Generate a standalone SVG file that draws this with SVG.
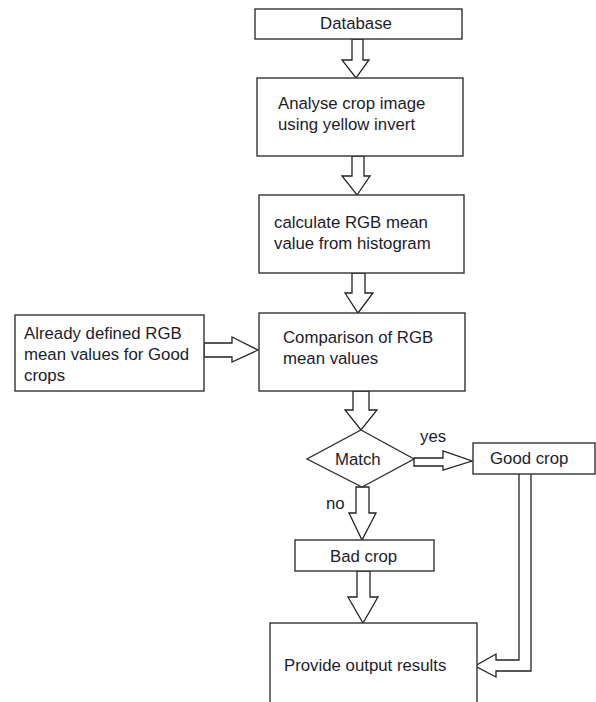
<svg xmlns="http://www.w3.org/2000/svg" width="596" height="702" viewBox="0 0 596 702">
<style>
.box{fill:#fff;stroke:#333;stroke-width:1.4}
.arr{fill:#fff;stroke:#222;stroke-width:1.3;stroke-linejoin:miter}
text{font-family:"Liberation Sans",Arial,sans-serif;font-size:16.8px;fill:#1c1c2a}
</style>
<rect width="596" height="702" fill="#fff"/>
<g id="connectors">
<polygon class="arr" points="352,39 363,39 363,60 369,60 356,78 342,60 352,60"/>
<polygon class="arr" points="352,156 364,156 364,176 370,176 357,195 342,176 352,176"/>
<polygon class="arr" points="352,273 365,273 365,293 373,293 358,313 345,293 352,293"/>
<polygon class="arr" points="204,343 232,343 232,337 258,350 232,362 232,357 204,357"/>
<polygon class="arr" points="353,391 369,391 369,410 377,410 361,430 345,410 353,410"/>
<polygon class="arr" points="414,458 443,458 443,451 472,461 443,470 443,466 414,466"/>
<polygon class="arr" points="356,487 369,487 369,513 376,513 362,540 349,513 356,513"/>
<polygon class="arr" points="357,571 370,571 370,597 378,597 363,623 348,597 357,597"/>
<polyline class="arr" points="519,474 519,660 496,660 496,654 475,666 496,677 496,671 531,671 531,474"/>
</g>
<g id="database"><rect class="box" x="255" y="9" width="207" height="30"/><text x="356" y="29" text-anchor="middle">Database</text></g>
<g id="analyse"><rect class="box" x="257" y="78" width="206" height="78"/><text x="278" y="109">Analyse crop image</text><text x="278" y="130">using yellow invert</text></g>
<g id="calculate"><rect class="box" x="259" y="195" width="205" height="78"/><text x="274" y="228">calculate RGB mean</text><text x="274" y="249">value from histogram</text></g>
<g id="predefined"><rect class="box" x="15" y="315" width="189" height="76"/><text x="24" y="339">Already defined RGB</text><text x="24" y="360">mean values for Good</text><text x="24" y="381">crops</text></g>
<g id="comparison"><rect class="box" x="259" y="313" width="206" height="78"/><text x="283" y="343">Comparison of RGB</text><text x="283" y="364">mean values</text></g>
<g id="match"><polygon class="box" points="361,430 414,459 362,487 307,459"/><text x="335" y="465">Match</text></g>
<text x="420" y="442">yes</text>
<text x="326" y="509">no</text>
<g id="goodcrop"><rect class="box" x="473" y="443" width="122" height="31"/><text x="490" y="464">Good crop</text></g>
<g id="badcrop"><rect class="box" x="295" y="540" width="139" height="31"/><text x="330" y="562">Bad crop</text></g>
<g id="output"><rect class="box" x="270" y="623" width="207" height="90"/><text x="284" y="671">Provide output results</text></g>
</svg>
